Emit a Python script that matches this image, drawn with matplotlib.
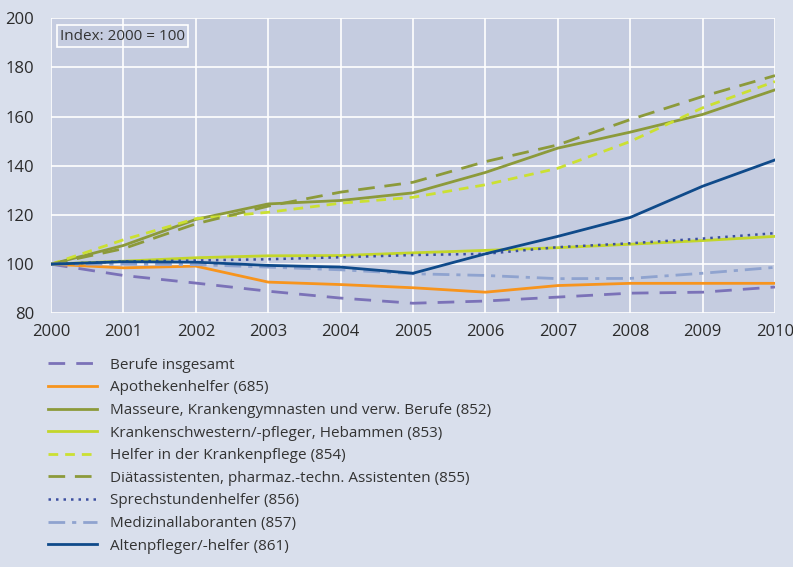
import numpy as np
import matplotlib.pyplot as plt

plt.rcParams['font.family'] = ['Open Sans', 'DejaVu Sans']

years = [2000, 2001, 2002, 2003, 2004, 2005, 2006, 2007, 2008, 2009, 2010]

berufe = [100, 95.4, 92.3, 89.0, 86.2, 84.1, 85.0, 86.6, 88.2, 88.6, 90.7]
apotheke = [100, 98.5, 99.2, 92.7, 91.7, 90.4, 88.6, 91.3, 92.2, 92.2, 92.2]
masseure = [100, 107.6, 118.2, 124.5, 125.9, 129.0, 137.3, 147.2, 153.7, 160.9, 170.9]
schwestern = [100, 101.2, 102.6, 103.4, 103.5, 104.6, 105.6, 106.7, 108.1, 109.6, 111.3]
helfer_kp = [100, 109.9, 118.5, 121.1, 124.8, 127.2, 132.3, 139.0, 149.9, 163.6, 174.3]
diaet = [100, 106.3, 116.4, 123.6, 129.3, 133.3, 141.7, 148.5, 158.8, 168.2, 176.7]
sprech = [100, 101.1, 101.5, 102.0, 102.8, 103.7, 104.2, 106.9, 108.5, 110.4, 112.6]
labor = [100, 100.0, 99.8, 98.8, 97.7, 96.1, 95.4, 94.1, 94.2, 96.3, 98.7]
alten = [100, 101.0, 100.8, 99.5, 98.8, 96.3, 104.2, 111.3, 119.0, 131.7, 142.4]

labels = ['Berufe insgesamt',
          'Apothekenhelfer (685)',
          'Masseure, Krankengymnasten und verw. Berufe (852)',
          'Krankenschwestern/-pfleger, Hebammen (853)',
          'Helfer in der Krankenpflege (854)',
          'Diätassistenten, pharmaz.-techn. Assistenten (855)',
          'Sprechstundenhelfer (856)',
          'Medizinallaboranten (857)',
          'Altenpfleger/-helfer (861)']

bg = '#d9dfec'
fig = plt.figure(figsize=(7.93, 5.67), dpi=100, facecolor=bg)
ax = fig.add_axes([0.0643, 0.4474, 0.9130, 0.5203])
ax.set_facecolor('#c5cce0')

ax.plot(years, berufe, color='#7b72b8', lw=2, dashes=(6, 4), label=labels[0])
ax.plot(years, apotheke, color='#f7941d', lw=2, label=labels[1])
ax.plot(years, masseure, color='#8c9a3a', lw=2, label=labels[2])
ax.plot(years, schwestern, color='#c3d62a', lw=2, label=labels[3])
ax.plot(years, helfer_kp, color='#cbe032', lw=2, dashes=(3.5, 2.5), label=labels[4])
ax.plot(years, diaet, color='#8c9a3a', lw=2, dashes=(6, 3.5), label=labels[5])
ax.plot(years, sprech, color='#3c4fa0', lw=1.8, dashes=(1, 2), label=labels[6])
ax.plot(years, labor, color='#8fa3cf', lw=2, dashes=(6, 2.5, 1.5, 2.5), label=labels[7])
ax.plot(years, alten, color='#0f4a8a', lw=2, label=labels[8])

ax.set_xlim(2000, 2010)
ax.set_ylim(80, 200)
ax.set_xticks(years)
ax.set_yticks(range(80, 201, 20))
ax.grid(True, color='white', lw=1.2)
ax.set_axisbelow(True)
for s in ax.spines.values():
    s.set_visible(False)
ax.tick_params(length=0, labelsize=12, colors='#2b2b2b')
ax.tick_params(axis='x', pad=8)
ax.tick_params(axis='y', pad=12)

ax.text(0.012, 0.94, 'Index: 2000 = 100', transform=ax.transAxes, fontsize=11,
        color='#333333', va='center', ha='left',
        bbox=dict(boxstyle='square,pad=0.2', fc='none', ec='white', lw=1.2))

leg = fig.legend(loc='upper left', bbox_to_anchor=(0.053, 0.38), frameon=False,
                 fontsize=11, handlelength=3.2, handletextpad=0.85,
                 labelspacing=0.5, borderaxespad=0)
for t in leg.get_texts():
    t.set_color('#333333')

fig.savefig('out.png', dpi=100, facecolor=bg)
